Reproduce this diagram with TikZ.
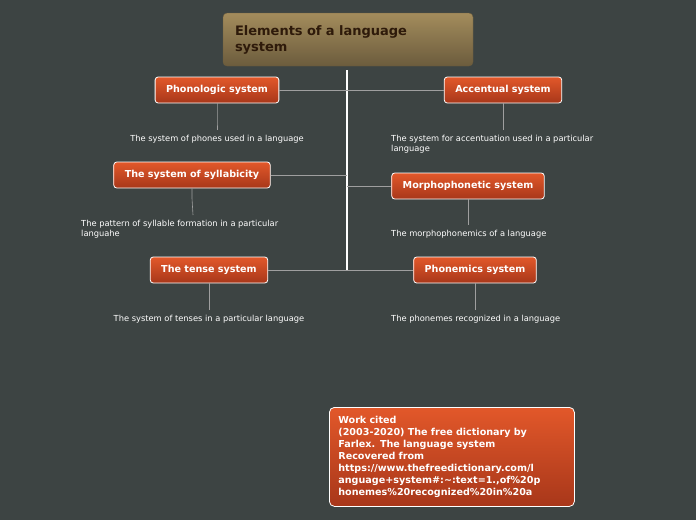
\documentclass[tikz,border=0pt]{standalone}
\usepackage{fontspec}
\setmainfont{DejaVu Sans}
\definecolor{bgc}{HTML}{3D4443}
\definecolor{topc}{HTML}{E2582A}
\definecolor{botc}{HTML}{A8371A}
\definecolor{goldt}{HTML}{A38C5C}
\definecolor{goldb}{HTML}{6C5C3D}
\definecolor{brownt}{HTML}{2E1A0A}
\tikzset{
  topic/.style={draw=white,line width=0.8pt,rounded corners=3pt,top color=topc,bottom color=botc,
    text=white,font=\bfseries\fontsize{9.6}{11}\selectfont,minimum height=26pt,inner xsep=11pt},
  note/.style={text=white,font=\fontsize{8.3}{10}\selectfont,inner sep=0pt},
  link/.style={draw=gray!75,line width=0.6pt}
}
\begin{document}
\begin{tikzpicture}[x=1pt,y=-1pt]
  \fill[bgc] (0,0) rectangle (696,520);
  \draw[white,line width=1.6pt] (347,70) -- (347,270);
  % title
  \node[draw=goldb,rounded corners=4pt,top color=goldt,bottom color=goldb,minimum width=250pt,minimum height=53pt,
    text=brownt,font=\bfseries\fontsize{13}{16}\selectfont,align=left,text width=226pt] (title) at (348,39.5)
    {Elements of a language\\system};
  % topics
  \node[topic] (phon) at (217,90) {Phonologic system};
  \node[topic] (acc) at (503,90) {Accentual system};
  \node[topic] (syl) at (192,175) {The system of syllabicity};
  \node[topic] (morph) at (468,186) {Morphophonetic system};
  \node[topic] (tense) at (209,270) {The tense system};
  \node[topic] (pm) at (475,270) {Phonemics system};
  \coordinate (c1) at (347,175);
  \coordinate (c2) at (347,186);
  \draw[link] (phon) -- (acc);
  \draw[link] (syl) -- (c1);
  \draw[link] (c2) -- (morph);
  \draw[link] (tense) -- (pm);
  % notes
  \node[note,anchor=north] (phonn) at (217,135) {The system of phones used in a language};
  \node[note,anchor=north west,align=left] (accn) at (391,135) {The system for accentuation used in a particular\\language};
  \node[note,anchor=north west,align=left] (syln) at (81,220) {The pattern of syllable formation in a particular\\languahe};
  \node[note,anchor=north west] (morphn) at (391,230) {The morphophonemics of a language};
  \node[note,anchor=north] (tensen) at (209,315) {The system of tenses in a particular language};
  \node[note,anchor=north west] (pmn) at (391,315) {The phonemes recognized in a language};
  \draw[link] (phon.south) -- ++(0,18) -- (217,130);
  \draw[link] (acc.south) -- (503,130);
  \draw[link] (syl.south) -- ++(0,10) -- (193,215);
  \draw[link] (morph.south) -- (468,225);
  \draw[link] (tense.south) -- (209,310);
  \draw[link] (pm.south) -- (475,310);
  % citation
  \node[topic,minimum width=245pt,minimum height=99pt,rounded corners=5pt,anchor=north west,align=left,
    inner xsep=9pt,text width=227pt,font=\bfseries\fontsize{9.6}{12}\selectfont] (cite) at (329,407)
    {Work cited\\(2003-2020) The free dictionary by\\Farlex. The language system\\Recovered from\\https://www.thefreedictionary.com/l\\anguage+system\#:\string~:text=1.,of\%20p\\honemes\%20recognized\%20in\%20a};
\end{tikzpicture}
\end{document}
